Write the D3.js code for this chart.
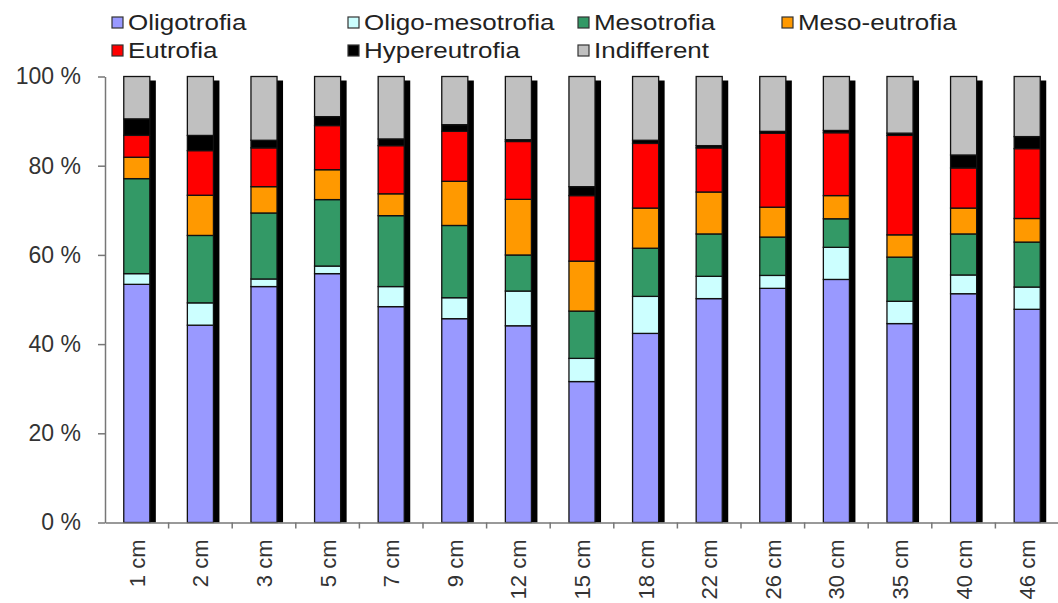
<!DOCTYPE html>
<html>
<head>
<meta charset="utf-8">
<script src="https://cdn.jsdelivr.net/npm/d3@7"></script>
<style>
  html, body { margin: 0; padding: 0; background: #ffffff; }
  svg { display: block; }
  text { font-family: "Liberation Sans", Arial, sans-serif; }
</style>
</head>
<body>
<svg id="chart" width="1058" height="603"></svg>
<script>
const categories = ["1 cm","2 cm","3 cm","5 cm","7 cm","9 cm","12 cm","15 cm","18 cm","22 cm","26 cm","30 cm","35 cm","40 cm","46 cm"];
const seriesNames = ["Oligotrofia","Oligo-mesotrofia","Mesotrofia","Meso-eutrofia","Eutrofia","Hypereutrofia","Indifferent"];
const oligotrofia     = [53.4,44.2,52.9,55.8,48.4,45.7,44.2,31.6,42.4,50.2,52.5,54.5,44.6,51.3,47.9];
const oligoMesotrofia = [2.4,5.0,1.7,1.7,4.5,4.7,7.8,5.2,8.3,5.0,2.9,7.2,5.0,4.2,5.0];
const mesotrofia      = [21.3,15.1,14.8,14.9,15.9,16.2,8.1,10.6,10.8,9.5,8.6,6.4,9.9,9.2,10.1];
const mesoEutrofia    = [4.8,9.0,5.9,6.7,4.9,9.9,12.5,11.2,9.0,9.4,6.7,5.2,5.0,5.8,5.3];
const eutrofia        = [4.9,10.0,8.7,9.9,10.8,11.2,13.0,14.7,14.5,9.9,16.6,14.1,22.3,9.0,15.7];
const hypereutrofia   = [3.7,3.4,1.7,2.0,1.5,1.5,0.4,2.0,0.7,0.5,0.4,0.5,0.5,2.9,2.7];
const indifferent     = [9.5,13.2,14.3,9.0,14.0,10.8,14.2,24.7,14.3,15.5,12.3,12.1,12.7,17.6,13.5];
const yTickValues = [0, 0.2, 0.4, 0.6, 0.8, 1.0];
const colors = ["#9999ff","#ccffff","#339966","#ff9900","#ff0000","#000000","#c0c0c0"];

const seriesValues = [oligotrofia, oligoMesotrofia, mesotrofia, mesoEutrofia, eutrofia, hypereutrofia, indifferent];
const table = categories.map((c, i) => {
  const row = { cat: c };
  seriesNames.forEach((s, j) => row[s] = seriesValues[j][i]);
  return row;
});

const svg = d3.select("#chart");
const x = d3.scaleBand().domain(categories).range([105, 1059]).paddingInner(0.59).paddingOuter(0.295);
const y = d3.scaleLinear().domain([0, 1]).range([522.5, 76.5]);
const color = d3.scaleOrdinal().domain(seriesNames).range(colors);

const stacked = d3.stack().keys(seriesNames).offset(d3.stackOffsetExpand)(table);

// shadows
svg.append("g").selectAll("rect").data(categories).join("rect")
  .attr("x", d => x(d) + 6)
  .attr("y", y(1) + 4)
  .attr("width", x.bandwidth())
  .attr("height", y(0) - y(1) - 4)
  .attr("fill", "#000");

// segments
svg.append("g").selectAll("g").data(stacked).join("g")
  .attr("fill", d => color(d.key))
  .selectAll("rect").data(d => d).join("rect")
  .attr("x", d => x(d.data.cat))
  .attr("y", d => y(d[1]))
  .attr("width", x.bandwidth())
  .attr("height", d => y(d[0]) - y(d[1]))
  .attr("stroke", "#111")
  .attr("stroke-width", 1.3);

// y axis
const yAxis = svg.append("g").attr("transform", "translate(105,0)")
  .call(d3.axisLeft(y).tickValues(yTickValues).tickFormat(d => Math.round(d * 100) + " %").tickSize(7).tickSizeOuter(0).tickPadding(17));
yAxis.select(".domain").attr("stroke", "#777").attr("stroke-width", 1.5);
yAxis.selectAll(".tick line").attr("stroke", "#777").attr("stroke-width", 1.5);
yAxis.selectAll(".tick text").attr("fill", "#333").style("font-size", "23px").style("font-family", "'Liberation Sans', Arial, sans-serif");

// x axis
const xAxis = svg.append("g").attr("transform", "translate(0,522.5)")
  .call(d3.axisBottom(x).tickSize(0).tickSizeOuter(0).tickPadding(0));
xAxis.select(".domain").attr("stroke", "#777").attr("stroke-width", 1.5);
xAxis.selectAll(".tick text")
  .attr("fill", "#333")
  .style("font-size", "22px")
  .style("font-family", "'Liberation Sans', Arial, sans-serif")
  .attr("text-anchor", "end")
  .attr("transform", "translate(0,17) rotate(-90)")
  .attr("x", 0).attr("y", 0).attr("dy", "0.36em");
// boundary ticks between categories
const step = x.step();
const boundaries = categories.map(c => x(c) - (step - x.bandwidth()) / 2);
xAxis.append("g").selectAll("line").data(boundaries.slice(1)).join("line")
  .attr("x1", d => d).attr("x2", d => d)
  .attr("y1", 0).attr("y2", 6)
  .attr("stroke", "#777").attr("stroke-width", 1.5);

// legend
const legendCols = [112, 348, 578, 782];
const legendRows = [22.5, 50.5];
const legendLayout = [[0,0],[0,1],[0,2],[0,3],[1,0],[1,1],[1,2]];
const lg = svg.append("g");
seriesNames.forEach((s, i) => {
  const [r, c] = legendLayout[i];
  const gx = legendCols[c], gy = legendRows[r];
  lg.append("rect").attr("x", gx).attr("y", gy - 5.5).attr("width", 11).attr("height", 11)
    .attr("fill", colors[i]).attr("stroke", "#333").attr("stroke-width", 1.2);
  const t = lg.append("text").attr("x", gx + 16).attr("y", gy + 7.5)
    .attr("fill", "#222").style("font-size", "22px").text(s);
  const w = t.node().getComputedTextLength();
  t.attr("textLength", w * 1.18).attr("lengthAdjust", "spacingAndGlyphs");
});
</script>
</body>
</html>
